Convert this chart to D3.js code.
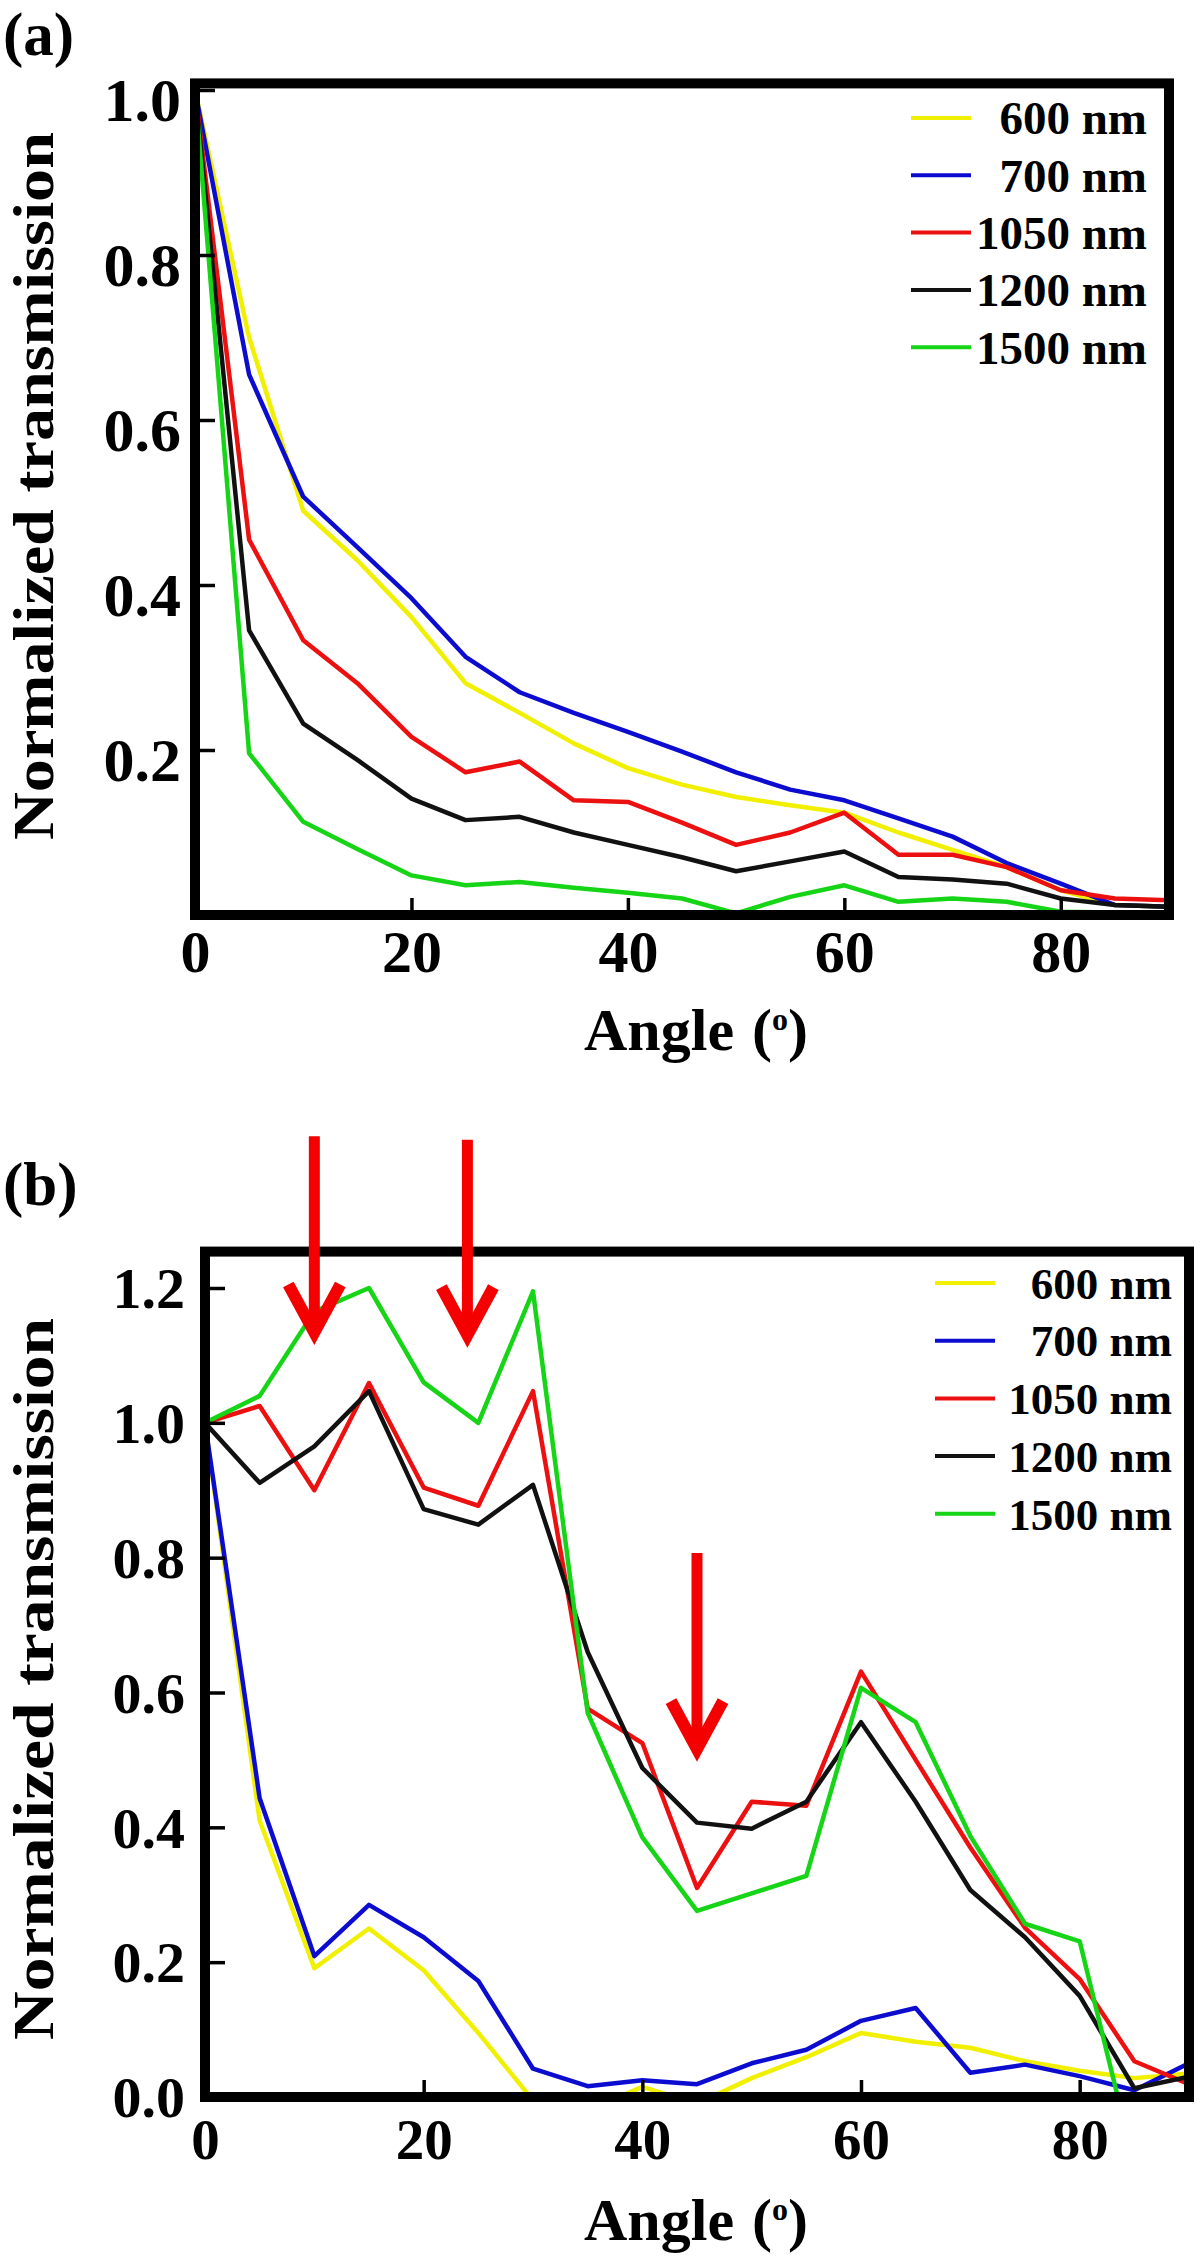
<!DOCTYPE html>
<html><head><meta charset="utf-8">
<script src="https://cdn.jsdelivr.net/npm/d3@7"></script>
<style>
body{margin:0;background:#fff}
svg{display:block}
text{font-family:"Liberation Serif","Times New Roman",serif;font-weight:bold;fill:#000}
</style>
</head><body>
<svg id="chart" width="1200" height="2260"></svg>
<script>
// ---------- data ----------
const angles = [0,5,10,15,20,25,30,35,40,45,50,55,60,65,70,75,80,85,90];
const seriesNames = ["600 nm","700 nm","1050 nm","1200 nm","1500 nm"];
const seriesColors = ["#f0f000","#0c0cd0","#ec1010","#111111","#16d416"];

// panel (a)
const a600  = [1.0,0.70,0.49,0.43,0.361,0.281,0.245,0.208,0.178,0.158,0.143,0.133,0.124,0.100,0.079,0.058,0.030,0.012,0.010];
const a700  = [1.0,0.655,0.507,0.446,0.384,0.313,0.270,0.245,0.222,0.198,0.173,0.152,0.139,0.117,0.095,0.063,0.038,0.012,0.010];
const a1050 = [1.0,0.455,0.333,0.281,0.216,0.173,0.186,0.139,0.137,0.112,0.085,0.100,0.124,0.073,0.073,0.058,0.030,0.020,0.018];
const a1200 = [1.0,0.345,0.232,0.188,0.141,0.115,0.119,0.100,0.085,0.070,0.053,0.065,0.077,0.046,0.043,0.038,0.020,0.012,0.010];
const a1500 = [1.0,0.196,0.113,0.080,0.048,0.036,0.040,0.033,0.027,0.020,0.002,0.022,0.036,0.016,0.020,0.016,0.004,0.003,0.003];

// panel (b)
const b600  = [1.0,0.41,0.191,0.25,0.188,0.095,-0.005,-0.02,0.015,-0.01,0.028,0.059,0.095,0.082,0.073,0.053,0.039,0.028,0.035];
const b700  = [1.0,0.443,0.209,0.285,0.237,0.172,0.042,0.016,0.025,0.019,0.050,0.070,0.113,0.132,0.036,0.048,0.031,0.010,0.050];
const b1050 = [1.0,1.025,0.90,1.059,0.904,0.877,1.047,0.576,0.525,0.31,0.438,0.432,0.631,0.50,0.37,0.251,0.175,0.053,0.019];
const b1200 = [1.0,0.911,0.965,1.047,0.872,0.849,0.908,0.66,0.488,0.407,0.398,0.438,0.556,0.438,0.307,0.237,0.15,0.013,0.03];
const b1500 = [1.0,1.04,1.165,1.2,1.06,1.0,1.195,0.57,0.385,0.276,0.302,0.328,0.607,0.556,0.387,0.257,0.231,-0.1,null];

// arrows in panel (b): angle, top value, tip value
const arrowAngles = [10,24,45];
const arrowTops   = [1.425,1.42,0.807];
const arrowTips   = [1.134,1.13,0.516];

// ticks
const xTickValues = [0,20,40,60,80];
const xTickLabels = ["0","20","40","60","80"];
const aYTickValues = [0.2,0.4,0.6,0.8,1.0];
const aYTickLabels = ["0.2","0.4","0.6","0.8","1.0"];
const bYTickValues = [0.0,0.2,0.4,0.6,0.8,1.0,1.2];
const bYTickLabels = ["0.0","0.2","0.4","0.6","0.8","1.0","1.2"];

// ---------- drawing ----------
const svg = d3.select("#chart");

const panels = [
  {id:"a", label:"(a)", labelY:55, series:[a600,a700,a1050,a1200,a1500],
   x0:195, x1:1169, yBottom:915, yTopPx:90, yTopVal:1.0, frameTop:1.008,
   yTicks:aYTickValues, yLabels:aYTickLabels, yLabelSize:62, yLabelDy:9, yLabelPad:14,
   xLabelSize:60, xLabelPad:14,
   titleY:486, titleLen:708, xTitleY:1050, xTitleX:696,
   legX0:911, legX1:971, legTextX:1147, legY0:118, legDy:57.3, legSize:47},
  {id:"b", label:"(b)", labelY:1205, series:[b600,b700,b1050,b1200,b1500],
   x0:205, x1:1189, yBottom:2097, yTopPx:1288, yTopVal:1.2, frameTop:1.254,
   yTicks:bYTickValues, yLabels:bYTickLabels, yLabelSize:58, yLabelDy:0, yLabelPad:20,
   xLabelSize:57, xLabelPad:22,
   titleY:1679, titleLen:722, xTitleY:2240, xTitleX:696,
   legX0:935, legX1:995, legTextX:1172, legY0:1283, legDy:57.7, legSize:45}
];

panels.forEach(p => {
  const g = svg.append("g");
  const x = d3.scaleLinear().domain([0,90]).range([p.x0, p.x1]);
  const y = d3.scaleLinear().domain([0,p.yTopVal]).range([p.yBottom, p.yTopPx]);

  // clip
  g.append("clipPath").attr("id","clip-"+p.id)
    .append("rect").attr("x",x(0)).attr("y",y(p.frameTop))
    .attr("width",x(90)-x(0)).attr("height",y(0)-y(p.frameTop));

  const line = d3.line()
    .defined(d => d[1] !== null)
    .x(d => x(d[0])).y(d => y(d[1]));

  const plot = g.append("g").attr("clip-path","url(#clip-"+p.id+")");
  p.series.forEach((vals,i) => {
    plot.append("path")
      .datum(angles.map((a,k) => [a, vals[k]]))
      .attr("d", line)
      .attr("fill","none")
      .attr("stroke", seriesColors[i])
      .attr("stroke-width", 4.5)
      .attr("stroke-linejoin","round");
  });

  // y axis ticks
  const yAxis = d3.axisLeft(y).tickValues(p.yTicks).tickSize(-20).tickPadding(p.yLabelPad)
    .tickFormat((d,i) => p.yLabels[i]);
  const gy = g.append("g").attr("transform","translate("+x(0)+",0)").call(yAxis);
  gy.select(".domain").remove();
  gy.selectAll("line").attr("stroke","#000").attr("stroke-width",3.5);
  gy.selectAll("text").style("font-size", p.yLabelSize+"px")
    .attr("dy", (0.34*p.yLabelSize + p.yLabelDy) + "px");

  // x axis ticks
  const xAxis = d3.axisBottom(x).tickValues(xTickValues).tickSize(-17).tickPadding(p.xLabelPad)
    .tickFormat((d,i) => xTickLabels[i]);
  const gx = g.append("g").attr("transform","translate(0,"+y(0)+")").call(xAxis);
  gx.select(".domain").remove();
  gx.selectAll("line").attr("stroke","#000").attr("stroke-width",3.5);
  gx.selectAll("text").style("font-size", p.xLabelSize+"px");

  // frame
  g.append("rect")
    .attr("x",x(0)).attr("y",y(p.frameTop))
    .attr("width",x(90)-x(0)).attr("height",y(0)-y(p.frameTop))
    .attr("fill","none").attr("stroke","#000").attr("stroke-width",10);

  // legend
  seriesNames.forEach((name,i) => {
    const ly = p.legY0 + i*p.legDy;
    g.append("line").attr("x1",p.legX0).attr("x2",p.legX1).attr("y1",ly).attr("y2",ly)
      .attr("stroke",seriesColors[i]).attr("stroke-width",4);
    g.append("text").attr("x",p.legTextX).attr("y",ly).attr("dy","0.35em")
      .attr("text-anchor","end").style("font-size",p.legSize+"px").text(name);
  });

  // y title
  g.append("text")
    .attr("transform","translate(53,"+p.titleY+") rotate(-90)")
    .attr("text-anchor","middle")
    .attr("textLength",p.titleLen).attr("lengthAdjust","spacingAndGlyphs")
    .style("font-size","58px")
    .text("Normalized transmission");

  // x title
  const xt = g.append("text").attr("x",p.xTitleX).attr("y",p.xTitleY)
    .attr("text-anchor","middle").style("font-size","60px");
  xt.append("tspan").text("Angle");
  xt.append("tspan").attr("dx",18).text("(");
  xt.append("tspan").attr("dy",-20).style("font-size","32px").text("o");
  xt.append("tspan").attr("dy",20).text(")");

  // panel label
  g.append("text").attr("x",3).attr("y",p.labelY).style("font-size","61px").text(p.label);

  // arrows
  if (p.id === "b") {
    arrowAngles.forEach((a,i) => {
      const ax = x(a), top = y(arrowTops[i]), tip = y(arrowTips[i]);
      g.append("line").attr("x1",ax).attr("x2",ax).attr("y1",top).attr("y2",tip-4)
        .attr("stroke","#f50000").attr("stroke-width",11);
      g.append("path")
        .attr("d","M"+(ax-26)+","+(tip-48)+" L"+ax+","+tip+" L"+(ax+26)+","+(tip-48))
        .attr("fill","none").attr("stroke","#f50000").attr("stroke-width",12)
        .attr("stroke-linejoin","miter");
    });
  }
});
</script>
</body></html>
